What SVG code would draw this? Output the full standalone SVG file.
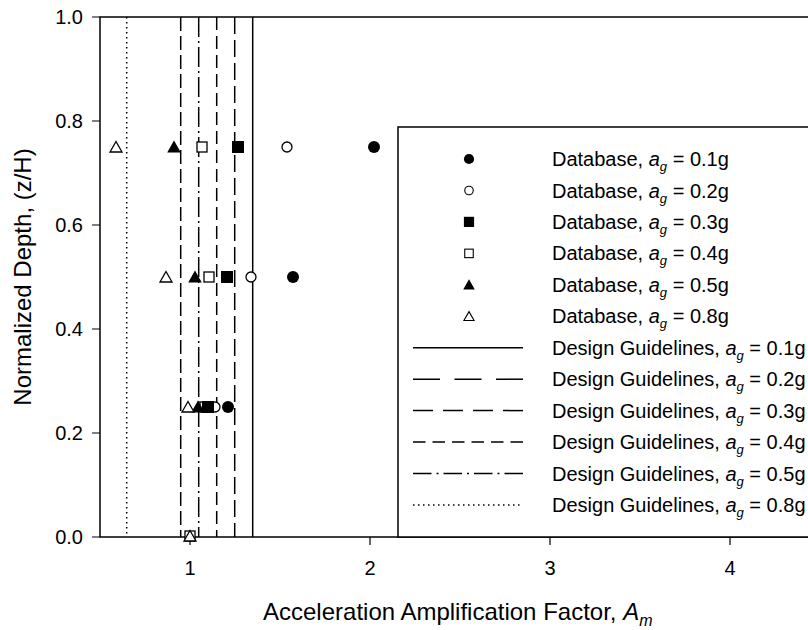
<svg xmlns="http://www.w3.org/2000/svg" xmlns:xlink="http://www.w3.org/1999/xlink" width="808" height="630" viewBox="0 0 808 630">
<style>
text{font-family:"Liberation Sans",Arial,sans-serif;font-size:20px;fill:#000}
.ti{font-size:24px}
.ax{stroke:#000;stroke-width:1.5;fill:none}
.tk{stroke:#000;stroke-width:1.2}
.g1{stroke:#000;stroke-width:1.5;fill:none}
.g2{stroke:#000;stroke-width:1.5;fill:none;stroke-dasharray:17 6}
.g3{stroke:#000;stroke-width:1.5;fill:none;stroke-dasharray:13 6}
.g4{stroke:#000;stroke-width:1.5;fill:none;stroke-dasharray:14 5}
.g5{stroke:#000;stroke-width:1.5;fill:none;stroke-dasharray:20 4 2 4}
.g6{stroke:#000;stroke-width:1.5;fill:none;stroke-dasharray:1.5 3.5}
.l1{stroke:#000;stroke-width:1.5}
.l2{stroke:#000;stroke-width:1.5;stroke-dasharray:27 14.5}
.l3{stroke:#000;stroke-width:1.5;stroke-dasharray:20 10}
.l4{stroke:#000;stroke-width:1.5;stroke-dasharray:12.5 7}
.l5{stroke:#000;stroke-width:1.5;stroke-dasharray:18.5 5 2 5}
.l6{stroke:#000;stroke-width:1.5;stroke-dasharray:1.5 3.5}
.it{font-style:italic}
.sb{font-style:italic;font-size:13px}
.sbt{font-style:italic;font-size:16px}
</style>
<defs>
<g id="fc"><circle r="6" fill="#000"/></g>
<g id="oc"><circle r="5" fill="#fff" stroke="#000" stroke-width="1.3"/></g>
<g id="fs"><rect x="-6" y="-6" width="12" height="12" fill="#000"/></g>
<g id="os"><rect x="-5" y="-5" width="10" height="10" fill="#fff" stroke="#000" stroke-width="1.3"/></g>
<g id="ft"><path d="M0,-6.5 L6.8,5.5 L-6.8,5.5Z" fill="#000"/></g>
<g id="ot"><path d="M0,-5.5 L6,5 L-6,5Z" fill="#fff" stroke="#000" stroke-width="1.3"/></g>
</defs>
<rect width="808" height="630" fill="#fff"/>

<g id="guidelines">
<line class="g6" x1="126.7" y1="17" x2="126.7" y2="537"/>
<line class="g4" x1="180.7" y1="17" x2="180.7" y2="537"/>
<line class="g5" x1="198.7" y1="17" x2="198.7" y2="537"/>
<line class="g3" x1="216.7" y1="17" x2="216.7" y2="537"/>
<line class="g2" x1="234.7" y1="17" x2="234.7" y2="537"/>
<line class="g1" x1="252.7" y1="17" x2="252.7" y2="537"/>
</g>

<g id="axes">
<path class="ax" d="M808,17 H100 V537 H808"/>
<path class="tk" d="M92,17H100M92,121H100M92,225H100M92,329H100M92,433H100M92,537H100"/>
<path class="tk" d="M190,537V545M370,537V545M550,537V545M730,537V545"/>
<g text-anchor="end">
<text x="83" y="24.2">1.0</text>
<text x="83" y="128.2">0.8</text>
<text x="83" y="232.2">0.6</text>
<text x="83" y="336.2">0.4</text>
<text x="83" y="440.2">0.2</text>
<text x="83" y="544.2">0.0</text>
</g>
<g text-anchor="middle">
<text x="190" y="575">1</text>
<text x="370" y="575">2</text>
<text x="550" y="575">3</text>
<text x="730" y="575">4</text>
</g>
<text class="ti" x="263" y="620">Acceleration Amplification Factor, <tspan class="it">A</tspan><tspan class="sbt" dy="6">m</tspan></text>
<text class="ti" transform="translate(31,277) rotate(-90)" text-anchor="middle">Normalized Depth, (z/H)</text>
</g>

<g id="data">
<use xlink:href="#fc" x="374" y="147"/>
<use xlink:href="#fs" x="238" y="147"/>
<use xlink:href="#ft" x="174" y="147"/>
<use xlink:href="#oc" x="287" y="147"/>
<use xlink:href="#os" x="202" y="147"/>
<use xlink:href="#ot" x="116" y="147"/>

<use xlink:href="#fc" x="293" y="277"/>
<use xlink:href="#fs" x="227" y="277"/>
<use xlink:href="#ft" x="195" y="277"/>
<use xlink:href="#oc" x="251" y="277"/>
<use xlink:href="#os" x="209" y="277"/>
<use xlink:href="#ot" x="166" y="277"/>

<use xlink:href="#fc" x="228" y="407"/>
<use xlink:href="#oc" x="215" y="407"/>
<use xlink:href="#os" x="205" y="407"/>
<use xlink:href="#fs" x="208" y="407"/>
<use xlink:href="#ft" x="198" y="407"/>
<use xlink:href="#ot" x="188" y="407"/>

<use xlink:href="#os" x="190" y="536"/>
<use xlink:href="#ot" x="190" y="536"/>
</g>

<g id="legend">
<rect x="398" y="127" width="420" height="410" fill="#fff" stroke="#000" stroke-width="1.5"/>
<use xlink:href="#fc" transform="translate(469,159) scale(0.85)"/>
<use xlink:href="#oc" transform="translate(469,190.5) scale(0.85)"/>
<use xlink:href="#fs" transform="translate(469,221.9) scale(0.85)"/>
<use xlink:href="#os" transform="translate(469,253.4) scale(0.85)"/>
<use xlink:href="#ft" transform="translate(469,284.8) scale(0.85)"/>
<use xlink:href="#ot" transform="translate(469,316.3) scale(0.85)"/>
<line class="l1" x1="413" y1="347.7" x2="523" y2="347.7"/>
<line class="l2" x1="413" y1="379.2" x2="523" y2="379.2"/>
<line class="l3" x1="413" y1="410.6" x2="523" y2="410.6"/>
<line class="l4" x1="413" y1="442.1" x2="523" y2="442.1"/>
<line class="l5" x1="413" y1="473.5" x2="523" y2="473.5"/>
<line class="l6" x1="413" y1="505" x2="523" y2="505"/>
<text x="552" y="166">Database, <tspan class="it">a</tspan><tspan class="sb" dy="5">g</tspan><tspan dy="-5"> = 0.1g</tspan></text>
<text x="552" y="197.5">Database, <tspan class="it">a</tspan><tspan class="sb" dy="5">g</tspan><tspan dy="-5"> = 0.2g</tspan></text>
<text x="552" y="228.9">Database, <tspan class="it">a</tspan><tspan class="sb" dy="5">g</tspan><tspan dy="-5"> = 0.3g</tspan></text>
<text x="552" y="260.4">Database, <tspan class="it">a</tspan><tspan class="sb" dy="5">g</tspan><tspan dy="-5"> = 0.4g</tspan></text>
<text x="552" y="291.8">Database, <tspan class="it">a</tspan><tspan class="sb" dy="5">g</tspan><tspan dy="-5"> = 0.5g</tspan></text>
<text x="552" y="323.3">Database, <tspan class="it">a</tspan><tspan class="sb" dy="5">g</tspan><tspan dy="-5"> = 0.8g</tspan></text>
<text x="552" y="354.7">Design Guidelines, <tspan class="it">a</tspan><tspan class="sb" dy="5">g</tspan><tspan dy="-5"> = 0.1g</tspan></text>
<text x="552" y="386.2">Design Guidelines, <tspan class="it">a</tspan><tspan class="sb" dy="5">g</tspan><tspan dy="-5"> = 0.2g</tspan></text>
<text x="552" y="417.6">Design Guidelines, <tspan class="it">a</tspan><tspan class="sb" dy="5">g</tspan><tspan dy="-5"> = 0.3g</tspan></text>
<text x="552" y="449.1">Design Guidelines, <tspan class="it">a</tspan><tspan class="sb" dy="5">g</tspan><tspan dy="-5"> = 0.4g</tspan></text>
<text x="552" y="480.5">Design Guidelines, <tspan class="it">a</tspan><tspan class="sb" dy="5">g</tspan><tspan dy="-5"> = 0.5g</tspan></text>
<text x="552" y="512">Design Guidelines, <tspan class="it">a</tspan><tspan class="sb" dy="5">g</tspan><tspan dy="-5"> = 0.8g</tspan></text>
</g>
</svg>
